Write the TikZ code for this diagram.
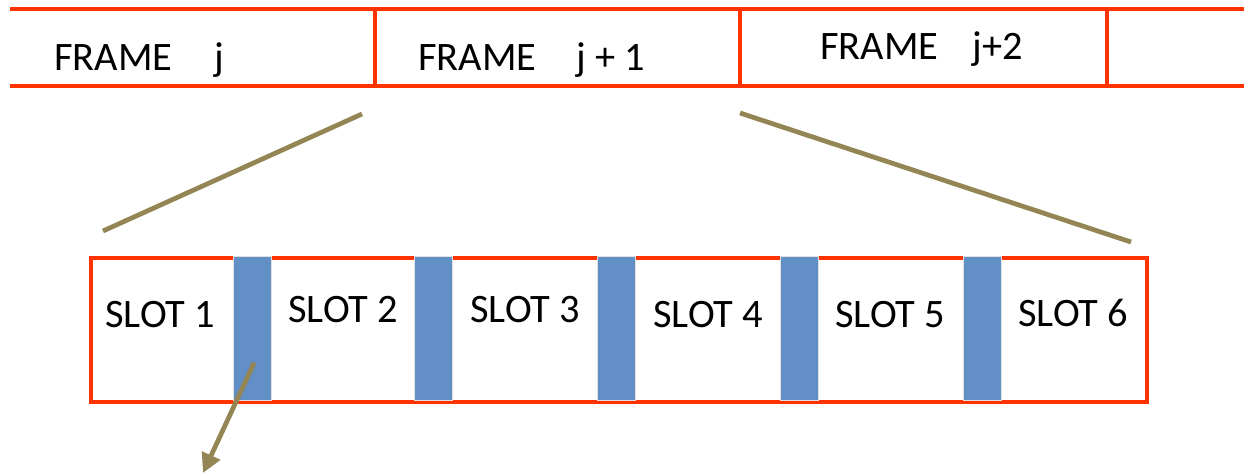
\documentclass[tikz,border=0pt]{standalone}
\usepackage{fontspec}
\setmainfont{Carlito}
\usetikzlibrary{arrows.meta}
\definecolor{fred}{RGB}{255,51,0}
\definecolor{tan}{RGB}{148,134,84}
\definecolor{guard}{RGB}{98,143,198}
\begin{document}
\begin{tikzpicture}[x=0.02cm,y=-0.02cm,
  redline/.style={draw=fred,line width=2.6pt},
  tanline/.style={draw=tan,line width=2.7pt},
  lbl/.style={inner sep=0pt,anchor=base west,font=\fontsize{23}{28}\selectfont,text=black},
  guardbar/.style={fill=guard,draw=black!12,line width=0.8pt,inner sep=0pt,
     minimum width=0.76cm,minimum height=2.88cm,anchor=north west}]
\useasboundingbox (0,0) rectangle (1244,475);
% top frame bar
\draw[redline] (10,9) -- (1244,9);
\draw[redline] (10,86) -- (1244,86);
\draw[redline] (375,9) -- (375,86);
\draw[redline] (740,9) -- (740,86);
\draw[redline] (1107,9) -- (1107,86);
\node[lbl] (f1) at (54,71) {FRAME\hspace{1.05em}j};
\node[lbl] (f2) at (418,71) {FRAME\hspace{1em}j + 1};
\node[lbl] (f3) at (820,60) {FRAME\hspace{0.85em}j+2};
% zoom lines
\coordinate (zl1) at (362,114);
\coordinate (zl2) at (103,231);
\coordinate (zr1) at (740,113);
\coordinate (zr2) at (1131,242);
\draw[tanline] (zl1) -- (zl2);
\draw[tanline] (zr1) -- (zr2);
% slot box
\node[draw=fred,line width=2.3pt,inner sep=0pt,minimum width=21.12cm,minimum height=2.88cm,anchor=north west] (box) at (89,256) {};
\node[guardbar] (g1) at (233,256) {};
\node[guardbar] (g2) at (414,256) {};
\node[guardbar] (g3) at (597,256) {};
\node[guardbar] (g4) at (780,256) {};
\node[guardbar] (g5) at (963,256) {};
\node[lbl] (s1) at (105,328) {SLOT 1};
\node[lbl] (s2) at (288,323) {SLOT 2};
\node[lbl] (s3) at (470,323) {SLOT 3};
\node[lbl] (s4) at (653,328) {SLOT 4};
\node[lbl] (s5) at (835,328) {SLOT 5};
\node[lbl] (s6) at (1018,327) {SLOT 6};
% arrow
\coordinate (a2) at (203,473);
\draw[tanline,-{Triangle[length=11pt,width=11pt]}] ([xshift=0.03cm,yshift=-0.68cm]g1.center) -- (a2);
\end{tikzpicture}
\end{document}
